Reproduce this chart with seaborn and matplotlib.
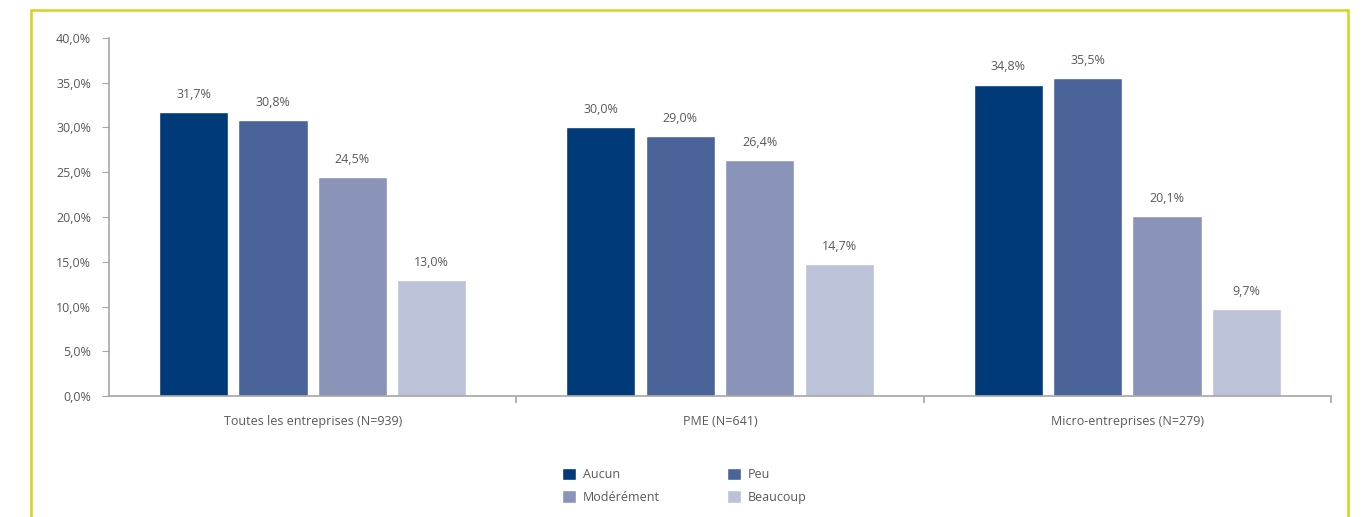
import numpy as np
import pandas as pd

import matplotlib.pyplot as plt
import seaborn as sns
from matplotlib.patches import Rectangle
from matplotlib.ticker import FuncFormatter, FixedLocator

groups = ["Toutes les entreprises (N=939)", "PME (N=641)", "Micro-entreprises (N=279)"]
levels = ["Aucun", "Peu", "Modérément", "Beaucoup"]
aucun = [31.7, 30.0, 34.8]
peu = [30.8, 29.0, 35.5]
moderement = [24.5, 26.4, 20.1]
beaucoup = [13.0, 14.7, 9.7]
colors = ["#003a78", "#4a6399", "#8a93b8", "#bcc2d8"]

df = pd.DataFrame({"groupe": groups * 4,
                   "niveau": np.repeat(levels, 3),
                   "valeur": aucun + peu + moderement + beaucoup})

sns.set_style("white")
plt.rcParams["font.family"] = ["Open Sans", "DejaVu Sans"]
grey = "#595959"
fs = 9

fig = plt.figure(figsize=(13.63, 5.17), dpi=100)
ax = fig.add_axes([109 / 1363, 1 - 396 / 517, (1331 - 109) / 1363, (396 - 38) / 517])

sns.barplot(data=df, x="groupe", y="valeur", hue="niveau", hue_order=levels,
            order=groups, palette=colors, saturation=1, width=0.78, gap=0.13,
            ax=ax, legend=True)

for cont in ax.containers:
    ax.bar_label(cont, labels=[f"{v:.1f}%".replace(".", ",") for v in cont.datavalues],
                 padding=8, fontsize=fs, color=grey)

ax.set_ylim(0, 40)
ax.set_xlim(-0.5, 2.5)
ax.set_yticks(np.arange(0, 41, 5))
ax.yaxis.set_major_formatter(FuncFormatter(lambda v, p: f"{v:.1f}%".replace(".", ",")))
ax.set_xlabel("")
ax.set_ylabel("")

for side in ["top", "right"]:
    ax.spines[side].set_visible(False)
for side in ["left", "bottom"]:
    ax.spines[side].set_color("#a6a6a6")
    ax.spines[side].set_linewidth(1.2)

ax.tick_params(axis="y", which="major", left=True, length=5, color="#a6a6a6",
               labelsize=fs, labelcolor=grey, pad=8)
ax.tick_params(axis="x", which="major", bottom=False, labelsize=fs, labelcolor=grey, pad=10)
ax.xaxis.set_minor_locator(FixedLocator([0.5, 1.5, 2.5]))
ax.tick_params(axis="x", which="minor", bottom=True, length=5, color="#a6a6a6", width=1.2)

# legend reads row-wise: Aucun, Peu / Modérément, Beaucoup
handles, labels = ax.get_legend_handles_labels()
order = [0, 2, 1, 3]
ax.legend([handles[i] for i in order], [labels[i] for i in order],
          loc="upper left", bbox_to_anchor=((562 - 109) / 1222, -0.2), ncol=2,
          frameon=False, fontsize=fs, labelcolor=grey, handlelength=1.1, handleheight=1.2,
          columnspacing=5.4, handletextpad=0.55, labelspacing=0.7, borderaxespad=0,
          borderpad=0)

fig.patches.append(Rectangle((31 / 1363, -0.05), (1348 - 31) / 1363, 1.05 - 10 / 517,
                             transform=fig.transFigure, fill=False,
                             edgecolor="#d4d21c", linewidth=1.8))

fig.savefig("out.png", dpi=100)
